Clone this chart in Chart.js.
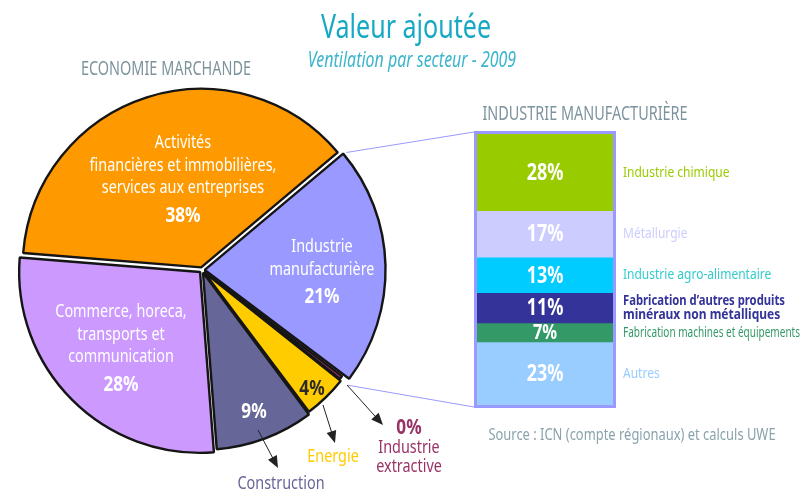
<!DOCTYPE html>
<html>
<head>
<meta charset="utf-8">
<script src="https://cdn.jsdelivr.net/npm/chart.js@4.4.0/dist/chart.umd.min.js"></script>
<style>
   body { margin: 0; background: #fff; width: 803px; height: 492px; overflow: hidden; position: relative;
          font-family: "Noto Sans", sans-serif; }
   #pie { position: absolute; left: 0; top: 0; }
   #bar { position: absolute; left: 470px; top: 120px; }
   .t { position: absolute; white-space: nowrap; transform: translate(-50%, -50%) scaleX(0.76); line-height: 1; }
</style>
</head>
<body>
<canvas id="pie" width="803" height="492"></canvas>
<canvas id="bar" width="333" height="300"></canvas>

<div class="t" style="left:406px;top:25px;font-size:33px;color:#17a9c4;">Valeur ajoutée</div>
<div class="t" style="left:412px;top:59px;font-size:21px;font-style:italic;color:#3bb5cc;">Ventilation par secteur - 2009</div>
<div class="t" style="left:166px;top:68px;font-size:19px;color:#7d939d;">ECONOMIE MARCHANDE</div>
<div class="t" style="left:585px;top:113px;font-size:19px;color:#7d939d;">INDUSTRIE MANUFACTURIÈRE</div>
<div class="t" style="left:632px;top:433px;font-size:17px;color:#8aa3ad;">Source : ICN (compte régionaux) et calculs UWE</div>

<script>
// Economie marchande, clockwise starting with the orange slice
const sectorNames = [
   "Activités\nfinancières et immobilières,\nservices aux entreprises",
   "Industrie\nmanufacturière",
   "Industrie\nextractive",
   "Energie",
   "Construction",
   "Commerce, horeca,\ntransports et\ncommunication"
];
const sectorValues = [37.6, 21.4, 0.4, 4.1, 9.0, 27.5];
const sectorColors = ["#ff9900", "#9999ff", "#993366", "#ffcc00", "#666699", "#cc99ff"];

// Industrie manufacturière detail, top to bottom
const branchNames = [
   "Industrie chimique",
   "Métallurgie",
   "Industrie agro-alimentaire",
   "Fabrication d’autres produits\nminéraux non métalliques",
   "Fabrication machines et équipements",
   "Autres"
];
const branchValues = [28, 17, 13, 11, 7, 23];
const branchColors = ["#99cc00", "#ccccff", "#00ccff", "#333399", "#339966", "#99ccff"];

const FONT = '"Noto Sans", sans-serif';
const SX = 0.78;         // horizontal squeeze, the original uses a condensed face
const PIE_RADIUS = 181;
const PIE_OFFSET = 11;   // chart.js moves a slice by offset / 4

// text placement around the pie, in px from its centre
const pieText = [
   { x: -19, y: -127, step: 22.5, color: "#fff", px: -19, py: -54, pcolor: "#fff" },
   { x: 120, y: -23, step: 23, color: "#fff", px: 120, py: 27, pcolor: "#fff" },
   { x: 207, y: 178, step: 19, color: "#993366", px: 207, py: 158, pcolor: "#993366" },
   { x: 131, y: 187, step: 19, color: "#ffcc00", px: 110, py: 119, pcolor: "#2b2b2b" },
   { x: 79, y: 214, step: 19, color: "#666699", px: 52, py: 142, pcolor: "#fff" },
   { x: -81, y: 42, step: 22.5, color: "#fff", px: -81, py: 115, pcolor: "#fff" }
];
// pointers from small slices to their names
const pieArrows = [[56, 160, 76, 198], [121, 135, 133, 173], [145, 115, 181, 155]];

function squeezedText(ctx, text, x, y, sx, maxWidth) {
   ctx.save();
   ctx.translate(x, y);
   ctx.scale(sx, 1);
   if (maxWidth) {
      ctx.fillText(text, 0, 0, maxWidth / sx);
   } else {
      ctx.fillText(text, 0, 0);
   }
   ctx.restore();
}

function drawArrow(ctx, x1, y1, x2, y2) {
   const a = Math.atan2(y2 - y1, x2 - x1);
   ctx.beginPath();
   ctx.moveTo(x1, y1);
   ctx.lineTo(x2 - Math.cos(a) * 8, y2 - Math.sin(a) * 8);
   ctx.stroke();
   ctx.beginPath();
   ctx.moveTo(x2, y2);
   ctx.lineTo(x2 - Math.cos(a) * 12 + Math.sin(a) * 5, y2 - Math.sin(a) * 12 - Math.cos(a) * 5);
   ctx.lineTo(x2 - Math.cos(a) * 12 - Math.sin(a) * 5, y2 - Math.sin(a) * 12 + Math.cos(a) * 5);
   ctx.closePath();
   ctx.fill();
}

// bar chart first, so the pie can find its corners for the connector lines
const barChart = new Chart(document.getElementById("bar"), {
   type: "bar",
   data: {
      labels: ["Industrie manufacturière"],
      datasets: branchNames.map((name, i) => ({
         label: name,
         data: [branchValues[i]],
         backgroundColor: branchColors[i],
         borderWidth: 0,
         categoryPercentage: 1,
         barPercentage: 1
      }))
   },
   options: {
      responsive: false,
      animation: false,
      layout: { padding: { left: 7, right: 190, top: 14, bottom: 15 } },
      plugins: { legend: { display: false }, tooltip: { enabled: false } },
      scales: {
         x: { stacked: true, display: false },
         y: { stacked: true, display: false, min: 0, max: 99, reverse: true }
      }
   },
   plugins: [{
      id: "barText",
      afterDatasetsDraw(chart) {
         const ctx = chart.ctx;
         const area = chart.chartArea;
         ctx.save();
         ctx.strokeStyle = "#9999ff";
         ctx.lineWidth = 3;
         ctx.strokeRect(area.left - 1.5, area.top - 1.5, area.right - area.left + 3, area.bottom - area.top + 3);
         ctx.textBaseline = "middle";
         chart.data.datasets.forEach((ds, i) => {
            const bar = chart.getDatasetMeta(i).data[0];
            const cy = (bar.y + bar.base) / 2;
            ctx.fillStyle = "#fff";
            ctx.textAlign = "center";
            ctx.font = "bold " + (ds.data[0] < 10 ? 21 : 23) + "px " + FONT;
            squeezedText(ctx, ds.data[0] + "%", (area.left + area.right) / 2, cy + 1, SX);
            const lines = ds.label.split("\n");
            ctx.textAlign = "left";
            ctx.fillStyle = i === 2 ? "#33cccc" : branchColors[i];
            ctx.font = (i === 3 ? "bold 15px " : "15px ") + FONT;
            lines.forEach((l, k) => {
               squeezedText(ctx, l, area.right + 10, cy + (k - (lines.length - 1) / 2) * 13.5, 0.8, i === 3 ? 162 : 177);
            });
         });
         ctx.restore();
      }
   }]
});

new Chart(document.getElementById("pie"), {
   type: "pie",
   data: {
      labels: sectorNames,
      datasets: [{
         data: sectorValues,
         backgroundColor: sectorColors,
         borderColor: "#151515",
         borderWidth: 2.4,
         offset: PIE_OFFSET
      }]
   },
   options: {
      responsive: false,
      animation: false,
      rotation: 274.6,
      radius: PIE_RADIUS,
      layout: { padding: { left: 2, right: 401, top: 70, bottom: 22 } },
      plugins: { legend: { display: false }, tooltip: { enabled: false } }
   },
   plugins: [{
      id: "pieText",
      beforeDatasetsDraw(chart) {
         // keep every slice on the same radius despite the offset
         chart.getDatasetMeta(0).data.forEach(arc => {
            const fix = 1 - Math.sin(Math.min(Math.PI, arc.circumference));
            arc.outerRadius = PIE_RADIUS - PIE_OFFSET * fix;
         });
      },
      afterDatasetsDraw(chart) {
         const ctx = chart.ctx;
         const arcs = chart.getDatasetMeta(0).data;
         const cx = arcs[0].x, cy = arcs[0].y;
         const shift = PIE_OFFSET / 4;
         ctx.save();

         // connector lines to the detail bar
         const box = barChart.chartArea;
         const bx = 470 + box.left - 3, btop = 120 + box.top - 2, bbottom = 120 + box.bottom + 2;
         const edge = (arc, ang) => {
            const mid = (arc.startAngle + arc.endAngle) / 2;
            return [cx + Math.cos(ang) * PIE_RADIUS + Math.cos(mid) * shift,
                    cy + Math.sin(ang) * PIE_RADIUS + Math.sin(mid) * shift];
         };
         const p1 = edge(arcs[1], arcs[1].startAngle);
         const p2 = edge(arcs[2], arcs[2].endAngle);
         ctx.strokeStyle = "#9999ff";
         ctx.lineWidth = 1;
         ctx.beginPath();
         ctx.moveTo(p1[0] + 3, p1[1] - 1);
         ctx.lineTo(bx, btop);
         ctx.moveTo(p2[0] + 2, p2[1] + 1);
         ctx.lineTo(bx, bbottom);
         ctx.stroke();

         // arrows
         ctx.strokeStyle = "#222";
         ctx.fillStyle = "#222";
         pieArrows.forEach(a => drawArrow(ctx, cx + a[0], cy + a[1], cx + a[2], cy + a[3]));

         // names and percentages
         ctx.textAlign = "center";
         ctx.textBaseline = "middle";
         sectorNames.forEach((name, i) => {
            const t = pieText[i];
            ctx.fillStyle = t.color;
            ctx.font = "18px " + FONT;
            name.split("\n").forEach((l, k) => squeezedText(ctx, l, cx + t.x, cy + t.y + k * t.step, 0.8));
            ctx.fillStyle = t.pcolor;
            ctx.font = "bold 22px " + FONT;
            squeezedText(ctx, Math.round(sectorValues[i]) + "%", cx + t.px, cy + t.py, SX);
         });
         ctx.restore();
      }
   }]
});
</script>
</body>
</html>
